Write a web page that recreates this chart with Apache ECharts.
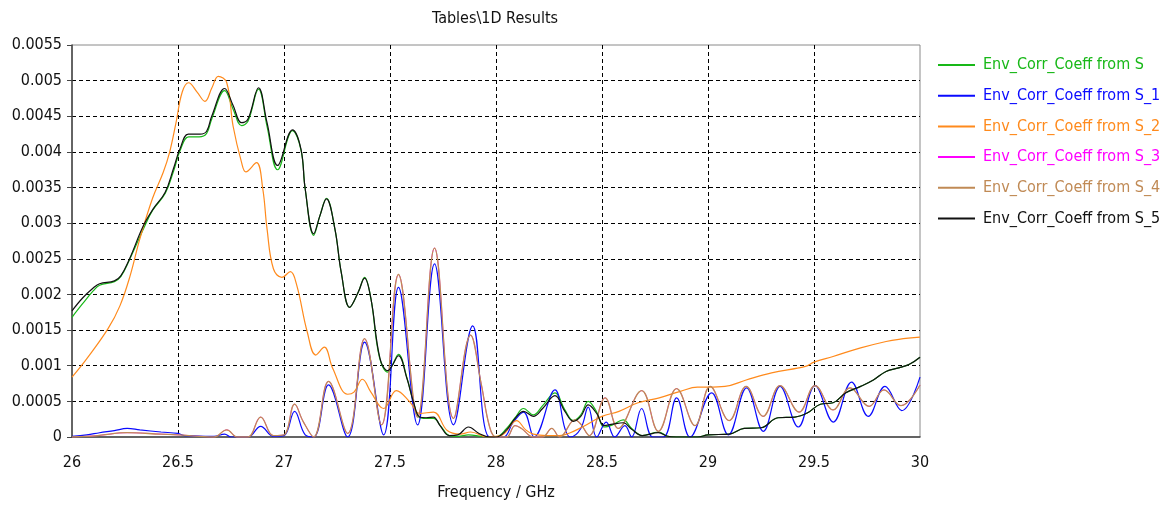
<!DOCTYPE html>
<html><head><meta charset="utf-8">
<script src="https://cdn.jsdelivr.net/npm/echarts@6/dist/echarts.min.js"></script>
<style>html,body{margin:0;padding:0;background:#fff}#c{width:1166px;height:506px}</style>
</head><body><div id="c"></div>
<script>
// ---- data: [frequency GHz, value] ----
const seriesNames = ["Env_Corr_Coeff from S","Env_Corr_Coeff from S_1","Env_Corr_Coeff from S_2","Env_Corr_Coeff from S_3","Env_Corr_Coeff from S_4","Env_Corr_Coeff from S_5"];
const xTicks = [26,26.5,27,27.5,28,28.5,29,29.5,30];
const yTicks = [0,0.0005,0.001,0.0015,0.002,0.0025,0.003,0.0035,0.004,0.0045,0.005,0.0055];

const dataS = [
[26.0,0.00168],[26.05,0.00187],[26.1,0.00205],[26.13,0.00213],[26.2,0.00218],[26.23,0.00225],[26.27,0.00248],[26.34,0.00294],[26.38,0.00318],[26.44,0.00342],[26.48,0.00374],[26.51,0.00402],[26.55,0.00421],[26.60,0.00421],[26.635,0.00426],[26.66,0.00447],[26.72,0.00486],[26.76,0.00460],[26.80,0.00437],[26.83,0.00443],[26.88,0.00488],[26.92,0.00436],[26.97,0.00375],[27.04,0.00430],[27.08,0.00403],[27.10,0.00348],[27.14,0.00283],[27.17,0.00311],[27.20,0.00335],[27.24,0.00292],[27.27,0.00231],[27.31,0.00182],[27.35,0.00203],[27.38,0.00224],[27.41,0.00194],[27.45,0.00112],[27.49,0.00091],[27.51,0.00100],[27.54,0.00116],[27.58,0.00083],[27.61,0.00050],[27.64,0.00027],[27.67,0.00026],[27.705,0.00026],[27.74,0.00015],[27.78,0.00002],[27.82,0.00001],[27.87,0.00003],[27.93,0.00001],[27.97,0.0],[28.0,0.0],[28.05,0.00012],[28.09,0.00027],[28.13,0.00040],[28.176,0.00031],[28.22,0.00044],[28.278,0.00062],[28.325,0.00038],[28.365,0.00023],[28.40,0.00031],[28.435,0.00050],[28.475,0.00035],[28.51,0.00014],[28.55,0.00017],[28.60,0.00024],[28.64,0.00012],[28.69,0.00002],[28.766,0.00007],[28.81,0.00001],[28.85,0.0],[28.95,0.0],[29.0,0.00003],[29.1,0.00004],[29.17,0.00012],[29.25,0.00013],[29.33,0.00027],[29.41,0.00028],[29.47,0.00034],[29.53,0.00046],[29.59,0.00048],[29.65,0.00062],[29.72,0.00071],[29.78,0.00080],[29.84,0.00092],[29.90,0.00097],[29.95,0.00102],[30.0,0.00112]
];
const dataS1 = [
[26.0,0.00001],[26.07,0.00003],[26.13,0.00006],[26.2,0.00009],[26.26,0.00012],[26.32,0.00010],[26.42,0.00007],[26.5,0.00005],[26.53,0.00002],[26.67,0.00001],[26.72,0.00004],[26.75,0.0],[26.83,0.0],[26.89,0.00015],[26.95,0.00001],[27.0,0.00002],[27.05,0.00036],[27.1,0.00003],[27.14,0.0],[27.21,0.00073],[27.3,0.0],[27.38,0.00133],[27.47,0.00003],[27.54,0.00210],[27.63,0.00017],[27.71,0.00243],[27.80,0.00017],[27.89,0.00156],[27.97,0.0],[28.035,0.0],[28.08,0.00020],[28.13,0.00035],[28.18,0.0],[28.278,0.00066],[28.325,0.00012],[28.35,0.0],[28.40,0.00012],[28.435,0.00042],[28.475,0.0],[28.52,0.00021],[28.56,0.0],[28.608,0.00016],[28.64,0.0],[28.687,0.00040],[28.74,0.0],[28.79,0.0],[28.852,0.00055],[28.915,0.0],[29.017,0.00062],[29.096,0.00003],[29.182,0.00069],[29.261,0.00008],[29.34,0.00071],[29.426,0.00014],[29.505,0.00072],[29.591,0.00021],[29.677,0.00077],[29.756,0.00029],[29.835,0.00071],[29.914,0.00037],[30.0,0.00084]
];
const dataS2 = [
[26.0,0.00084],[26.07,0.00110],[26.17,0.00152],[26.226,0.00184],[26.274,0.00226],[26.32,0.00278],[26.38,0.00335],[26.43,0.00371],[26.46,0.00399],[26.49,0.00440],[26.52,0.00484],[26.55,0.00497],[26.59,0.00484],[26.627,0.00471],[26.66,0.00490],[26.69,0.00506],[26.73,0.00497],[26.76,0.00436],[26.80,0.00385],[26.82,0.00372],[26.87,0.00385],[26.90,0.00348],[26.92,0.00292],[26.95,0.00236],[26.99,0.00224],[27.03,0.00232],[27.06,0.00213],[27.11,0.00147],[27.15,0.00115],[27.19,0.00126],[27.23,0.00096],[27.30,0.00060],[27.33,0.00063],[27.37,0.00081],[27.41,0.00063],[27.47,0.00040],[27.53,0.00065],[27.594,0.00049],[27.64,0.00033],[27.705,0.00035],[27.77,0.00009],[27.83,0.00004],[27.88,0.00007],[27.96,0.0],[28.03,0.00003],[28.097,0.00023],[28.14,0.00010],[28.176,0.00004],[28.24,0.00002],[28.30,0.00002],[28.35,0.00006],[28.40,0.00013],[28.45,0.00021],[28.50,0.00029],[28.58,0.00036],[28.67,0.00048],[28.77,0.00055],[28.87,0.00064],[28.95,0.00070],[29.0,0.00070],[29.08,0.00071],[29.18,0.00080],[29.30,0.00090],[29.46,0.00099],[29.5,0.00105],[29.59,0.00113],[29.72,0.00125],[29.84,0.00134],[29.9,0.00137],[30.0,0.00140]
];
const dataS4 = [
[26.0,0.0],[26.12,0.00002],[26.26,0.00006],[26.42,0.00004],[26.5,0.00003],[26.6,0.00001],[26.67,0.0],[26.73,0.00010],[26.78,0.0],[26.83,0.0],[26.89,0.00028],[26.95,0.00002],[27.0,0.00003],[27.05,0.00046],[27.09,0.00022],[27.14,0.0],[27.21,0.00078],[27.3,0.00005],[27.38,0.00138],[27.46,0.00017],[27.54,0.00228],[27.63,0.00028],[27.71,0.00265],[27.80,0.00026],[27.88,0.00143],[27.93,0.00075],[27.97,0.00014],[28.0,0.0],[28.05,0.0],[28.09,0.00016],[28.12,0.00012],[28.176,0.0],[28.22,0.0],[28.263,0.00012],[28.30,0.0],[28.373,0.00024],[28.40,0.00018],[28.44,0.00002],[28.515,0.00055],[28.577,0.00012],[28.687,0.00065],[28.766,0.00008],[28.852,0.00068],[28.939,0.00016],[29.01,0.00071],[29.10,0.00023],[29.18,0.00071],[29.26,0.00029],[29.34,0.00072],[29.43,0.00035],[29.505,0.00072],[29.59,0.00038],[29.67,0.00069],[29.76,0.00043],[29.83,0.00066],[29.91,0.00044],[30.0,0.00073]
];
const dataS3 = dataS4.slice(); // hidden under S_4 in the reference
const dataS5 = [
[26.0,0.00177],[26.05,0.00195],[26.1,0.00209],[26.13,0.00215],[26.2,0.00219],[26.23,0.00226],[26.27,0.00249],[26.336,0.00296],[26.383,0.00320],[26.439,0.00343],[26.478,0.00376],[26.509,0.00404],[26.549,0.00425],[26.604,0.00425],[26.635,0.00429],[26.659,0.00450],[26.72,0.00489],[26.76,0.00465],[26.80,0.00441],[26.83,0.00446],[26.88,0.00490],[26.92,0.00441],[26.97,0.00381],[27.04,0.00431],[27.08,0.00404],[27.10,0.00348],[27.14,0.00285],[27.17,0.00311],[27.20,0.00334],[27.24,0.00292],[27.27,0.00231],[27.31,0.00182],[27.35,0.00203],[27.38,0.00223],[27.41,0.00194],[27.453,0.00110],[27.49,0.00093],[27.51,0.00100],[27.54,0.00114],[27.58,0.00082],[27.61,0.00050],[27.64,0.00028],[27.67,0.00027],[27.705,0.00028],[27.736,0.00016],[27.78,0.00002],[27.82,0.00003],[27.87,0.00014],[27.92,0.00005],[27.97,0.0],[28.0,0.0],[28.05,0.00010],[28.09,0.00026],[28.13,0.00036],[28.176,0.00029],[28.22,0.00040],[28.278,0.00058],[28.325,0.00036],[28.365,0.00022],[28.40,0.00029],[28.435,0.00045],[28.475,0.00033],[28.51,0.00016],[28.55,0.00018],[28.60,0.00020],[28.64,0.00011],[28.69,0.00002],[28.766,0.00006],[28.81,0.00001],[28.85,0.0],[28.95,0.0],[29.0,0.00003],[29.1,0.00004],[29.17,0.00012],[29.25,0.00013],[29.33,0.00027],[29.41,0.00028],[29.47,0.00034],[29.53,0.00046],[29.59,0.00048],[29.65,0.00062],[29.72,0.00071],[29.78,0.00080],[29.84,0.00092],[29.90,0.00097],[29.95,0.00102],[30.0,0.00112]
];
const seriesData = [dataS, dataS1, dataS2, dataS3, dataS4, dataS5];
const colors = ['#18b818','#0a0aff','#ff8a1c','#ff00ff','#c08a55','#111111'];
const zOrder = [2,2,2,1,2,2];
const widths = [1.2,1.2,1.2,0.8,1.3,1.2];

const FONT = 'DejaVu Sans Condensed';
const chart = echarts.init(document.getElementById('c'), null, {renderer:'canvas'});
chart.setOption({
  animation:false,
  backgroundColor:'#fff',
  textStyle:{fontFamily:FONT},
  graphic:[
    {type:'text', x:495, y:19, style:{text:'Tables\\1D Results', fill:'#111', font:'16px "'+FONT+'"', textAlign:'center', textVerticalAlign:'middle'}}
  ],
  legend:{
    orient:'vertical', left:938, top:56, padding:0, itemWidth:37, itemHeight:2, itemGap:12.7,
    icon:'rect',
    data: seriesNames.map((n,i)=>({name:n, textStyle:{color:colors[i], fontSize:16, lineHeight:18, fontFamily:FONT, padding:[0,0,0,3]}})),
    selectedMode:false
  },
  grid:{left:72, right:246, top:45, bottom:68, show:true, borderColor:'#8a8a8a', borderWidth:1},
  xAxis:{
    type:'value', min:26, max:30, interval:0.5,
    name:'Frequency / GHz', nameLocation:'middle', nameGap:48,
    nameTextStyle:{color:'#111', fontSize:16, fontFamily:FONT},
    axisLine:{show:true, onZero:false, lineStyle:{color:'#444', width:1.5}},
    axisTick:{show:false},
    axisLabel:{color:'#111', fontSize:16, margin:18, fontFamily:FONT, formatter:v=>String(parseFloat(v.toPrecision(4)))},
    splitLine:{show:true, showMinLine:false, showMaxLine:false, lineStyle:{color:'#000', type:[4,3], width:1}}
  },
  yAxis:{
    type:'value', min:0, max:0.0055, interval:0.0005,
    axisLine:{show:true, lineStyle:{color:'#444', width:1.5}},
    axisTick:{show:true, inside:false, length:5, lineStyle:{color:'#444'}},
    axisLabel:{color:'#111', fontSize:16, margin:10, fontFamily:FONT, formatter:v=>String(parseFloat(v.toPrecision(4)))},
    splitLine:{show:true, showMinLine:false, showMaxLine:false, lineStyle:{color:'#000', type:[4,3], width:1}}
  },
  series: seriesNames.map((n,i)=>({
    name:n, type:'line', data:seriesData[i], showSymbol:false, symbol:'none',
    smooth:0.4, clip:true, z:zOrder[i],
    lineStyle:{color:colors[i], width:widths[i]},
    itemStyle:{color:colors[i]}
  }))
});
</script></body></html>
